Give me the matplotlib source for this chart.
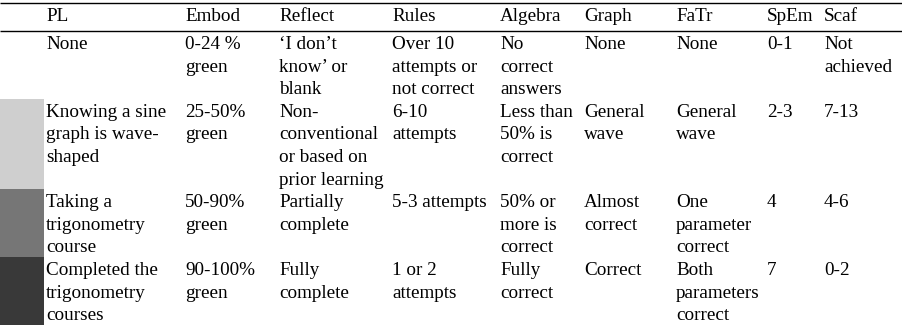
import matplotlib
matplotlib.use("Agg")
import matplotlib.pyplot as plt

# ---- data ----
headers = ["PL", "Embod", "Reflect", "Rules", "Algebra", "Graph", "FaTr", "SpEm", "Scaf"]
pl = [["None"], ["Knowing a sine", "graph is wave-", "shaped"],
      ["Taking a", "trigonometry", "course"], ["Completed the", "trigonometry", "courses"]]
embod = [["0-24 %", "green"], ["25-50%", "green"], ["50-90%", "green"], ["90-100%", "green"]]
reflect = [["\u2018I don\u2019t", "know\u2019 or", "blank"],
           ["Non-", "conventional", "or based on", "prior learning"],
           ["Partially", "complete"], ["Fully", "complete"]]
rules = [["Over 10", "attempts or", "not correct"], ["6-10", "attempts"],
         ["5-3 attempts"], ["1 or 2", "attempts"]]
algebra = [["No", "correct", "answers"], ["Less than", "50% is", "correct"],
           ["50% or", "more is", "correct"], ["Fully", "correct"]]
graph = [["None"], ["General", "wave"], ["Almost", "correct"], ["Correct"]]
fatr = [["None"], ["General", "wave"], ["One", "parameter", "correct"],
        ["Both", "parameters", "correct"]]
spem = [["0-1"], ["2-3"], ["4"], ["7"]]
scaf = [["Not", "achieved"], ["7-13"], ["4-6"], ["0-2"]]
pl_level = [0, 1, 2, 3]

columns = [pl, embod, reflect, rules, algebra, graph, fatr, spem, scaf]

# ---- layout / style ----
W, H = 902, 325
col_x = [46, 185, 279, 392, 500, 584, 676, 767, 824]
line_h = 22.6
asc = 18.0
top_line_y = 3
header_rule_y = 31
band_w = 44
level_colors = {1: "#cfcfcf", 2: "#767676", 3: "#393939"}
fs = 13.8
font = ["Liberation Serif", "DejaVu Serif"]

fig = plt.figure(figsize=(W / 100, H / 100), dpi=100)
ax = fig.add_axes([0, 0, 1, 1])
ax.set_xlim(0, W)
ax.set_ylim(H, 0)
ax.axis("off")

# rules
ax.plot([0, W], [top_line_y, top_line_y], color="black", lw=1.0, solid_capstyle="butt")
ax.plot([0, W], [header_rule_y, header_rule_y], color="black", lw=1.0, solid_capstyle="butt")

# header
for x, h in zip(col_x, headers):
    ax.text(x, top_line_y + asc, h, fontsize=fs, family=font, va="baseline", ha="left")

# body
y = header_rule_y
for r in range(len(pl)):
    nlines = max(len(col[r]) for col in columns)
    rh = nlines * line_h
    lvl = pl_level[r]
    if lvl in level_colors:
        ax.add_patch(plt.Rectangle((0, y), band_w, rh, color=level_colors[lvl], lw=0))
    for x, col in zip(col_x, columns):
        for i, line in enumerate(col[r]):
            ax.text(x, y + asc + i * line_h, line, fontsize=fs, family=font,
                    va="baseline", ha="left")
    y += rh

fig.savefig("out.png", dpi=100)
